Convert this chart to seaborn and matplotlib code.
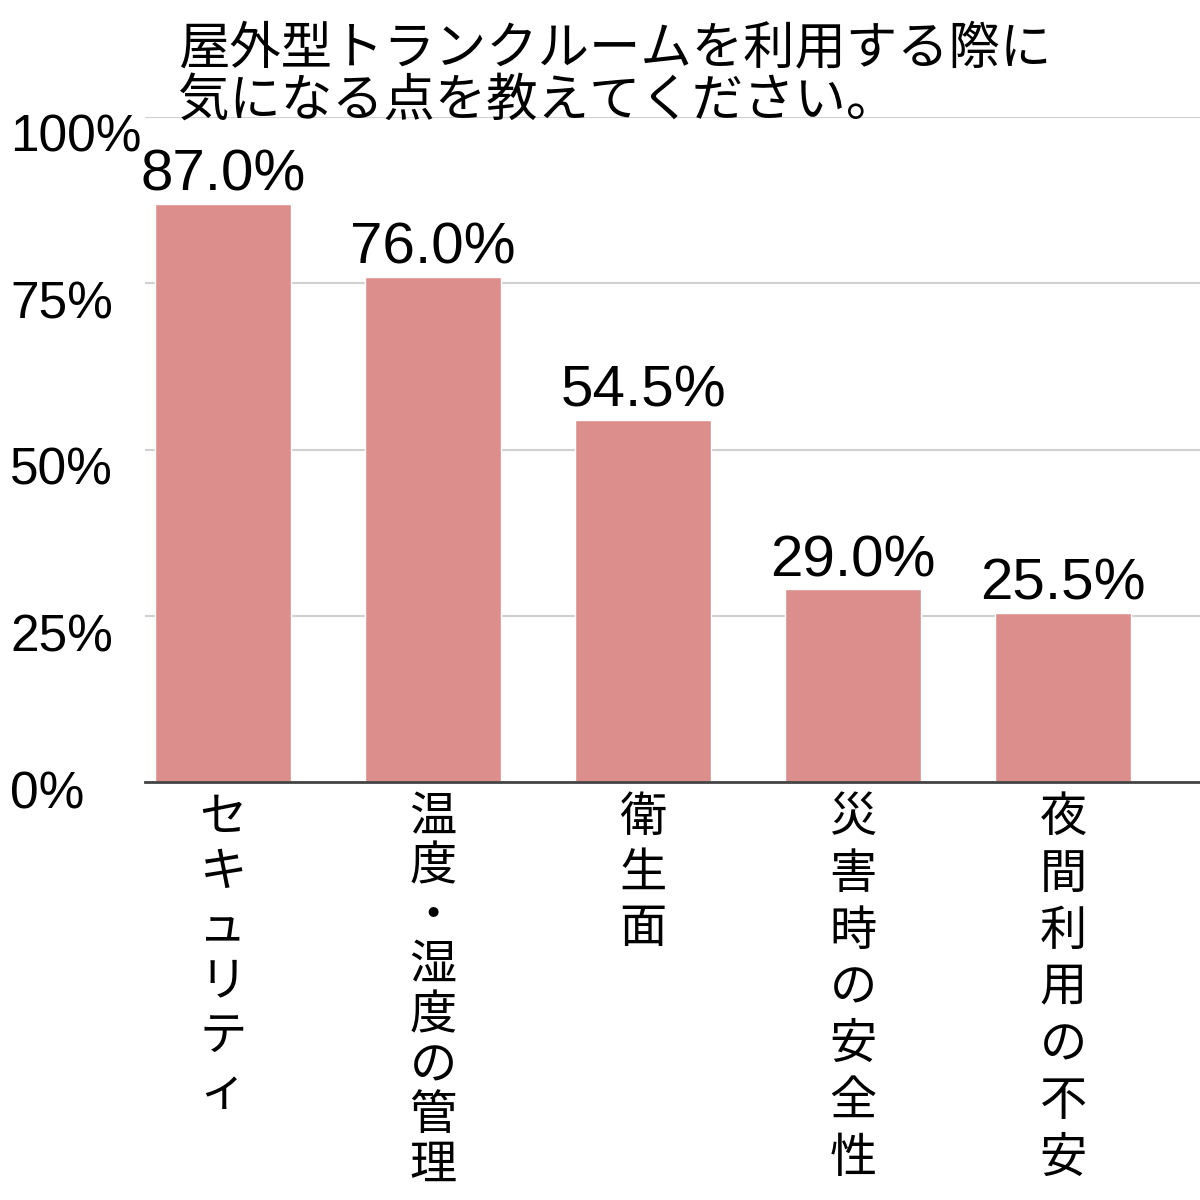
import matplotlib
matplotlib.use('Agg')
import matplotlib.pyplot as plt
import matplotlib.transforms as mtransforms
import seaborn as sns
import pandas as pd

# data ----------
categories = ['セキュリティ', '温度・湿度の管理', '衛生面', '災害時の安全性', '夜間利用の不安']
values = [87.0, 76.0, 54.5, 29.0, 25.5]
yticks = [0, 25, 50, 75, 100]
title = '屋外型トランクルームを利用する際に\n気になる点を教えてください。'

df = pd.DataFrame({'item': categories, 'pct': values})

sns.set_theme(style='white')
plt.rcParams['font.family'] = ['Noto Sans CJK JP', 'DejaVu Sans']
num_font = ['Liberation Sans', 'Noto Sans CJK JP']

fig = plt.figure(figsize=(12, 12), dpi=100)
ax = fig.add_axes([0.121, 0.348, 0.879, 0.5545])

sns.barplot(data=df, x='item', y='pct', color='#db8e8b', saturation=1,
            width=0.65, ax=ax)

# value labels on top of bars
txts = ax.bar_label(ax.containers[0], labels=[f'{v:.1f}%' for v in values],
                    padding=1, fontsize=42, color='black')
for t in txts:
    t.set_family(num_font)

ax.set_ylim(0, 100)
ax.set_xlim(-0.371, 4.652)
ax.set_yticks(yticks)
ax.set_yticklabels([f'{t}%' for t in yticks])
ax.yaxis.grid(True, color='#d0d0d0', linewidth=1.5)
ax.set_axisbelow(True)
ax.set_xlabel('')
ax.set_ylabel('')

for s in ['top', 'right', 'left']:
    ax.spines[s].set_visible(False)
ax.spines['bottom'].set_color('#444444')
ax.spines['bottom'].set_linewidth(2)

# y tick labels left aligned at the figure edge, sitting a bit under the line
ax.tick_params(axis='y', length=0, pad=97, labelsize=37, labelcolor='black')
for lab, t in zip(ax.get_yticklabels(), yticks):
    drop = 7 if t == 0 else 16
    off = mtransforms.ScaledTranslation(0, -drop / 100, fig.dpi_scale_trans)
    lab.set_horizontalalignment('left')
    lab.set_family(num_font)
    lab.set_transform(lab.get_transform() + off)

# vertical x labels, one character per line
ax.set_xticks(range(len(categories)))
ax.set_xticklabels(['\n'.join(c) for c in categories], fontsize=34, va='top')
ax.tick_params(axis='x', length=0, pad=8, labelcolor='black')
spacing = [1.17, 1.03, 1.19, 1.22, 1.22]
for lab, ls in zip(ax.get_xticklabels(), spacing):
    lab.set_linespacing(ls)

fig.text(0.148, 0.982, title, fontsize=37, ha='left', va='top',
         linespacing=0.98, color='black')

fig.savefig('out.png', dpi=100, facecolor='white')
